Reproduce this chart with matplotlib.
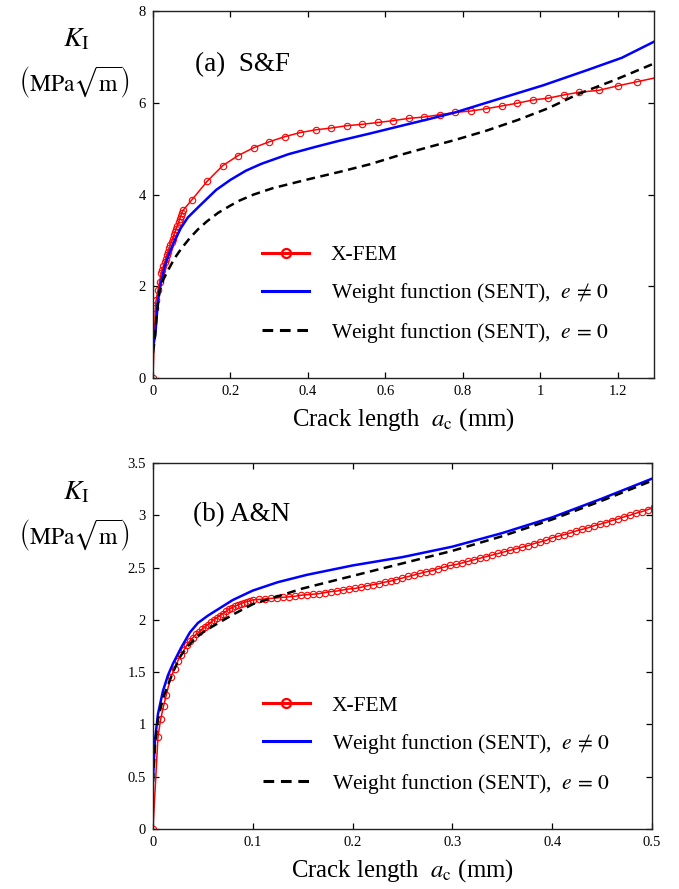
import matplotlib
matplotlib.use("Agg")
import matplotlib.pyplot as plt
from matplotlib.ticker import FuncFormatter

plt.rcParams['font.family'] = ['Liberation Serif', 'DejaVu Serif']
plt.rcParams['mathtext.fontset'] = 'stix'

# ---------------- Panel (a) S&F ----------------
a_xfem_x = [0, 0.006, 0.008, 0.013, 0.017, 0.021, 0.024, 0.027, 0.030, 0.033, 0.036,
            0.039, 0.042, 0.045, 0.048, 0.051, 0.054, 0.057, 0.060, 0.063, 0.066,
            0.069, 0.072, 0.075, 0.078, 0.10, 0.14, 0.18, 0.22, 0.26, 0.30, 0.34,
            0.38, 0.42, 0.46, 0.50, 0.54, 0.58, 0.62, 0.66, 0.70, 0.74, 0.78, 0.82,
            0.86, 0.90, 0.94, 0.98, 1.02, 1.06, 1.10, 1.15, 1.20, 1.25, 1.30]
a_xfem_y = [0, 1.52, 1.70, 1.92, 2.10, 2.28, 2.36, 2.44, 2.52, 2.60, 2.68,
            2.75, 2.83, 2.90, 2.97, 3.04, 3.11, 3.18, 3.25, 3.32, 3.39,
            3.46, 3.53, 3.60, 3.66, 3.88, 4.29, 4.63, 4.85, 5.02, 5.15, 5.26,
            5.35, 5.41, 5.45, 5.50, 5.53, 5.57, 5.61, 5.66, 5.69, 5.74, 5.79, 5.82,
            5.87, 5.93, 5.99, 6.06, 6.10, 6.17, 6.23, 6.27, 6.37, 6.46, 6.55]

a_wf_x = [0, 0.006, 0.013, 0.02, 0.03, 0.042, 0.056, 0.072, 0.09, 0.12, 0.163, 0.2,
          0.24, 0.28, 0.35, 0.42, 0.48, 0.56, 0.637, 0.71, 0.78, 0.895, 1.007,
          1.12, 1.21, 1.30]
a_wf_y = [0.65, 0.95, 1.70, 2.05, 2.42, 2.72, 3.00, 3.27, 3.50, 3.75, 4.10, 4.32,
          4.52, 4.67, 4.88, 5.04, 5.17, 5.33, 5.49, 5.64, 5.79, 6.09, 6.38,
          6.71, 6.98, 7.36]

a_wf0_x = [0, 0.004, 0.01, 0.017, 0.027, 0.039, 0.055, 0.073, 0.095, 0.116, 0.14,
           0.168, 0.2, 0.224, 0.26, 0.31, 0.40, 0.48, 0.56, 0.637, 0.71, 0.78,
           0.86, 0.94, 1.02, 1.10, 1.19, 1.30]
a_wf0_y = [0.55, 0.80, 1.40, 1.90, 2.15, 2.35, 2.60, 2.82, 3.05, 3.24, 3.42,
           3.60, 3.76, 3.87, 4.00, 4.14, 4.33, 4.49, 4.66, 4.86, 5.03, 5.19,
           5.39, 5.62, 5.88, 6.20, 6.49, 6.88]

# ---------------- Panel (b) A&N ----------------
b_xfem_x = [0, 0.005, 0.0077, 0.0107, 0.0133, 0.0177, 0.0217,
            0.025, 0.028, 0.031, 0.034, 0.037, 0.040, 0.043, 0.046, 0.049, 0.052,
            0.055, 0.058, 0.061, 0.064, 0.067, 0.070, 0.073, 0.076, 0.079, 0.082,
            0.085, 0.088, 0.091, 0.094, 0.097, 0.100,
            0.106, 0.112, 0.118, 0.124, 0.130, 0.136, 0.142, 0.148, 0.154, 0.160,
            0.166, 0.172, 0.178, 0.184, 0.190, 0.196, 0.202, 0.208, 0.214, 0.220,
            0.226, 0.232, 0.238, 0.244, 0.250, 0.256, 0.262, 0.268, 0.274, 0.280,
            0.286, 0.292, 0.298, 0.304, 0.310, 0.316, 0.322, 0.328, 0.334, 0.340,
            0.346, 0.352, 0.358, 0.364, 0.370, 0.376, 0.382, 0.388, 0.394, 0.400,
            0.406, 0.412, 0.418, 0.424, 0.430, 0.436, 0.442, 0.448, 0.454, 0.460,
            0.466, 0.472, 0.478, 0.484, 0.490, 0.496, 0.502]
b_xfem_y = [0, 0.88, 1.05, 1.18, 1.28, 1.45, 1.53,
            1.61, 1.66, 1.71, 1.76, 1.80, 1.83, 1.86, 1.88, 1.91, 1.93,
            1.955, 1.975, 2.00, 2.02, 2.04, 2.06, 2.08, 2.10, 2.115, 2.13,
            2.14, 2.155, 2.165, 2.175, 2.18, 2.19,
            2.195, 2.20, 2.205, 2.21, 2.215, 2.22, 2.225, 2.235, 2.24, 2.245,
            2.25, 2.26, 2.27, 2.275, 2.285, 2.295, 2.30, 2.31, 2.325, 2.335,
            2.345, 2.36, 2.37, 2.385, 2.40, 2.415, 2.43, 2.445, 2.46, 2.47,
            2.49, 2.505, 2.52, 2.53, 2.545, 2.56, 2.575, 2.59, 2.605, 2.62,
            2.635, 2.65, 2.665, 2.68, 2.695, 2.71, 2.73, 2.745, 2.76, 2.785,
            2.80, 2.815, 2.83, 2.85, 2.865, 2.88, 2.90, 2.915, 2.93, 2.95,
            2.965, 2.985, 3.00, 3.02, 3.035, 3.055, 3.075]

b_wf_x = [0, 0.002, 0.005, 0.01, 0.015, 0.02, 0.028, 0.037, 0.045, 0.055, 0.065,
          0.08, 0.1, 0.125, 0.154, 0.2, 0.25, 0.30, 0.35, 0.40, 0.45, 0.50]
b_wf_y = [0.47, 0.85, 1.10, 1.32, 1.47, 1.58, 1.73, 1.88, 1.97, 2.04, 2.10,
          2.19, 2.28, 2.36, 2.43, 2.52, 2.60, 2.70, 2.83, 2.98, 3.16, 3.35]

b_wf0_x = [0, 0.002, 0.005, 0.01, 0.02, 0.028, 0.036, 0.044, 0.053, 0.062, 0.08,
           0.1, 0.15, 0.2, 0.25, 0.3, 0.35, 0.4, 0.45, 0.5]
b_wf0_y = [0.45, 0.80, 1.05, 1.25, 1.50, 1.66, 1.76, 1.84, 1.90, 1.95, 2.05,
           2.15, 2.30, 2.42, 2.54, 2.66, 2.80, 2.96, 3.14, 3.33]

a_xticks = [0, 0.2, 0.4, 0.6, 0.8, 1.0, 1.2]
a_yticks = [0, 2, 4, 6, 8]
b_xticks = [0, 0.1, 0.2, 0.3, 0.4, 0.5]
b_yticks = [0, 0.5, 1, 1.5, 2, 2.5, 3, 3.5]

labels = ['X-FEM', r'Weight function (SENT),  $e\,\neq\,0$',
          r'Weight function (SENT),  $e\,=\,0$']

fig = plt.figure(figsize=(6.79, 8.89), dpi=100)
ax1 = fig.add_axes([0.2253, 0.5748, 0.7378, 0.4128])
ax2 = fig.add_axes([0.2253, 0.0675, 0.7349, 0.4117])

fmt = FuncFormatter(lambda v, p: '%g' % v)


def style(ax, xticks, yticks, xlim, ylim):
    ax.set_xlim(*xlim)
    ax.set_ylim(*ylim)
    ax.set_xticks(xticks)
    ax.set_yticks(yticks)
    ax.xaxis.set_major_formatter(fmt)
    ax.yaxis.set_major_formatter(fmt)
    ax.tick_params(direction='in', top=True, right=True, length=4.5, width=0.9,
                   labelsize=10.5, pad=5, colors='black')
    for s in ax.spines.values():
        s.set_linewidth(1.0)
        s.set_color('#222222')
    ax.set_xlabel(r'Crack length  $a_\mathrm{c}$ (mm)', fontsize=17.8, labelpad=6)


def draw(ax, xx, xy, wx, wy, w0x, w0y, ms):
    h1, = ax.plot(xx, xy, color='#ff0000', lw=1.1, marker='o', ms=ms,
                  mfc='none', mec='#ff0000', mew=0.8)
    h2, = ax.plot(wx, wy, color='#0000ff', lw=1.8)
    h3, = ax.plot(w0x, w0y, color='black', lw=1.8, ls=(0, (3.5, 2.2)))
    return [h1, h2, h3]


for ax, xx, xy, wx, wy, w0x, w0y, xt, yt, xl, yl, tag, tpos, lpos in [
    (ax1, a_xfem_x, a_xfem_y, a_wf_x, a_wf_y, a_wf0_x, a_wf0_y, a_xticks, a_yticks,
     (0, 1.293), (0, 8), '(a)  S&F', (0.084, 0.853), (0.2176, 0.226)),
    (ax2, b_xfem_x, b_xfem_y, b_wf_x, b_wf_y, b_wf0_x, b_wf0_y, b_xticks, b_yticks,
     (0, 0.5), (0, 3.5), '(b) A&N', (0.080, 0.858), (0.22, 0.227)),
]:
    hs = draw(ax, xx, xy, wx, wy, w0x, w0y, 4.6)
    style(ax, xt, yt, xl, yl)
    ax.text(tpos[0], tpos[1], tag, transform=ax.transAxes, fontsize=19.5,
            ha='left', va='center')
    leg = ax.legend(hs, labels, loc='center left', bbox_to_anchor=lpos,
                    frameon=False, fontsize=15.5, handlelength=2.2,
                    handletextpad=1.0, labelspacing=0.74, borderpad=0,
                    borderaxespad=0)
    for ln in leg.get_lines():
        ln.set_linewidth(2.2)
    leg.get_lines()[0].set_markersize(6.5)
    leg.get_lines()[0].set_markeredgewidth(1.6)

# y-axis labels
for ky, uy in [(0.955, 0.908), (0.4455, 0.398)]:
    fig.text(0.113, ky, r'$K_\mathrm{I}$', fontsize=20, ha='center', va='center')
    fig.text(0.110, uy, r'$\left(\mathrm{MPa}\sqrt{\mathrm{m}}\right)$',
             fontsize=17, ha='center', va='center')

fig.savefig('out.png', dpi=100)
